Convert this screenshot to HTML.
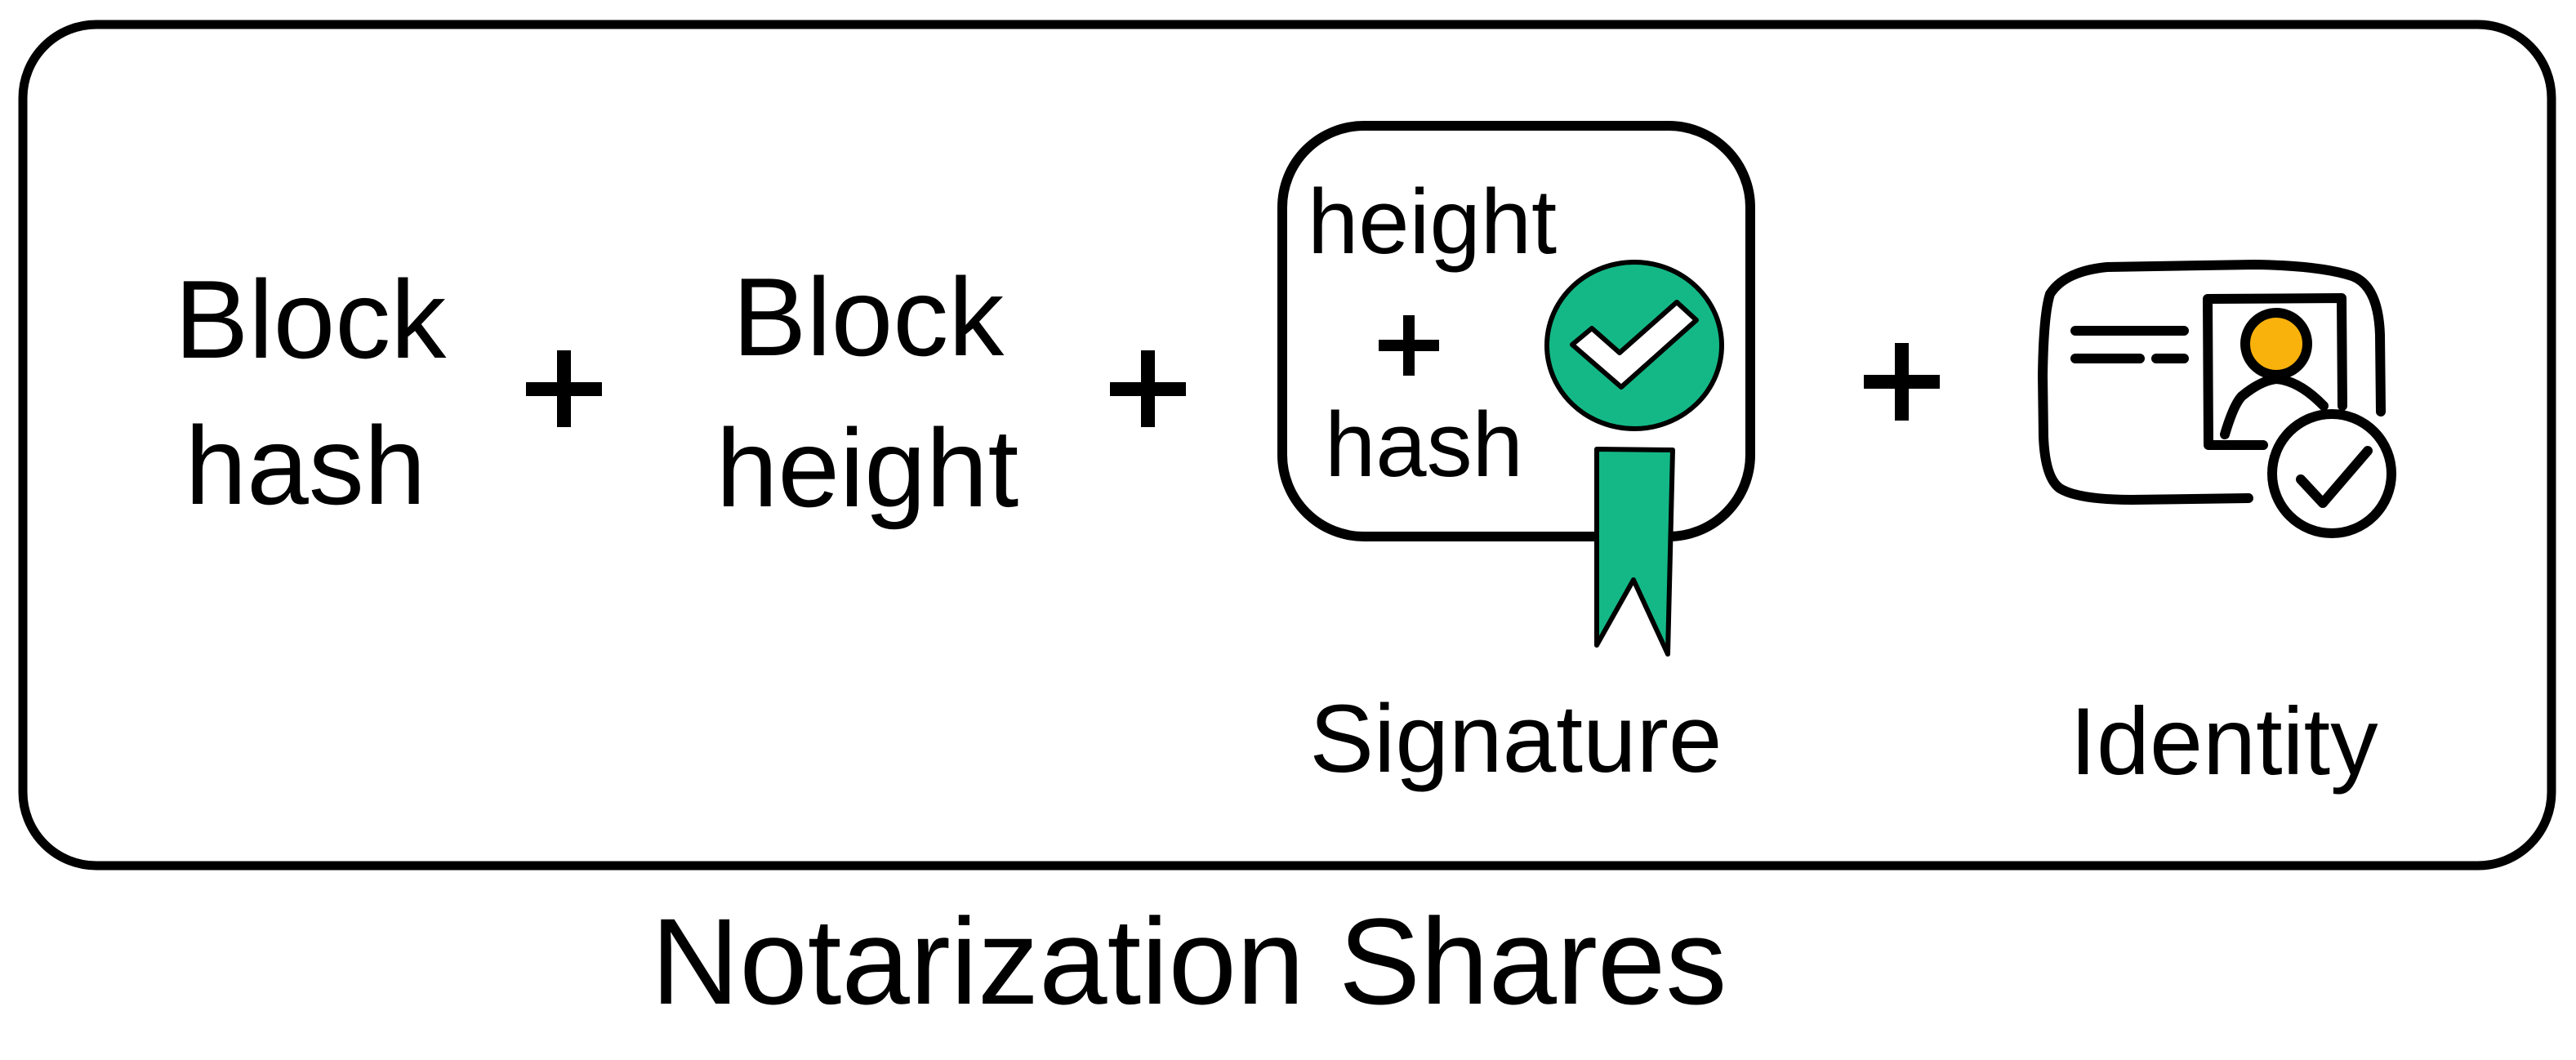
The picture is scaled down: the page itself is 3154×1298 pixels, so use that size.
<!DOCTYPE html>
<html><head><meta charset="utf-8"><style>
html,body{margin:0;padding:0;background:#fff;}
svg{display:block;}
text{font-family:"Liberation Sans",Arial,sans-serif;fill:#000;}
</style></head><body>
<svg width="3154" height="1298" viewBox="0 0 3154 1298" xmlns="http://www.w3.org/2000/svg">
<rect x="28" y="30" width="3096" height="1030" rx="90" ry="90" fill="none" stroke="#000" stroke-width="11"/>
<text x="380" y="438" font-size="136" text-anchor="middle">Block</text>
<text x="374" y="617" font-size="136" text-anchor="middle">hash</text>
<text x="1063" y="435" font-size="136" text-anchor="middle">Block</text>
<text x="1062" y="620" font-size="136" text-anchor="middle">height</text>
<g fill="#000">
<rect x="682" y="429" width="17" height="94"/><rect x="644" y="468" width="93" height="17"/>
<rect x="1397" y="429" width="17" height="94"/><rect x="1359" y="468" width="93" height="17"/>
<rect x="2320" y="420" width="17" height="95"/><rect x="2282" y="459" width="93" height="17"/>
</g>
<rect x="1570" y="154" width="573" height="503" rx="100" ry="100" fill="none" stroke="#000" stroke-width="12"/>
<text x="1601" y="310" font-size="112">height</text>
<rect x="1718" y="386" width="14" height="74"/><rect x="1688" y="416" width="74" height="14"/>
<text x="1622" y="583" font-size="112">hash</text>
<ellipse cx="2001" cy="423" rx="107" ry="102" fill="#14b886" stroke="#000" stroke-width="6"/>
<polygon points="1925,422 1949,402 1983,432 2053,370 2077,392 1985,474" fill="#fff" stroke="#000" stroke-width="6" stroke-linejoin="round"/>
<polygon points="1955,550 2048,551 2042,801 2000,710 1955,790" fill="#14b886" stroke="#000" stroke-width="6" stroke-linejoin="round"/>
<text x="1856" y="945" font-size="118" text-anchor="middle">Signature</text>
<g fill="none" stroke="#000" stroke-width="12" stroke-linecap="round" stroke-linejoin="round">
<path d="M2915,504 L2914,410 Q2912,350 2880,338 Q2840,325 2760,324 L2580,327 Q2528,332 2510,360 Q2502,385 2501,460 L2502,535 Q2504,585 2522,598 Q2545,612 2610,612 L2753,610"/>
<path d="M2541,405 L2674,405 M2541,439 L2620,439 M2640,439 L2674,439"/>
<path d="M2868,497 L2867,365 L2703,366 L2704,545 L2771,545"/>
<path d="M2724,532 Q2735,495 2745,485 Q2768,466 2787,464 Q2815,466 2845,497"/>
</g>
<circle cx="2787" cy="421" r="38" fill="#f9b10b" stroke="#000" stroke-width="12"/>
<circle cx="2855" cy="580" r="73" fill="#fff" stroke="#000" stroke-width="12"/>
<path d="M2817,587 L2844,616 L2899,552" fill="none" stroke="#000" stroke-width="12" stroke-linecap="round" stroke-linejoin="round"/>
<text x="2723" y="948" font-size="117" text-anchor="middle">Identity</text>
<text x="797" y="1229" font-size="150">Notarization Shares</text>
</svg>
</body></html>
